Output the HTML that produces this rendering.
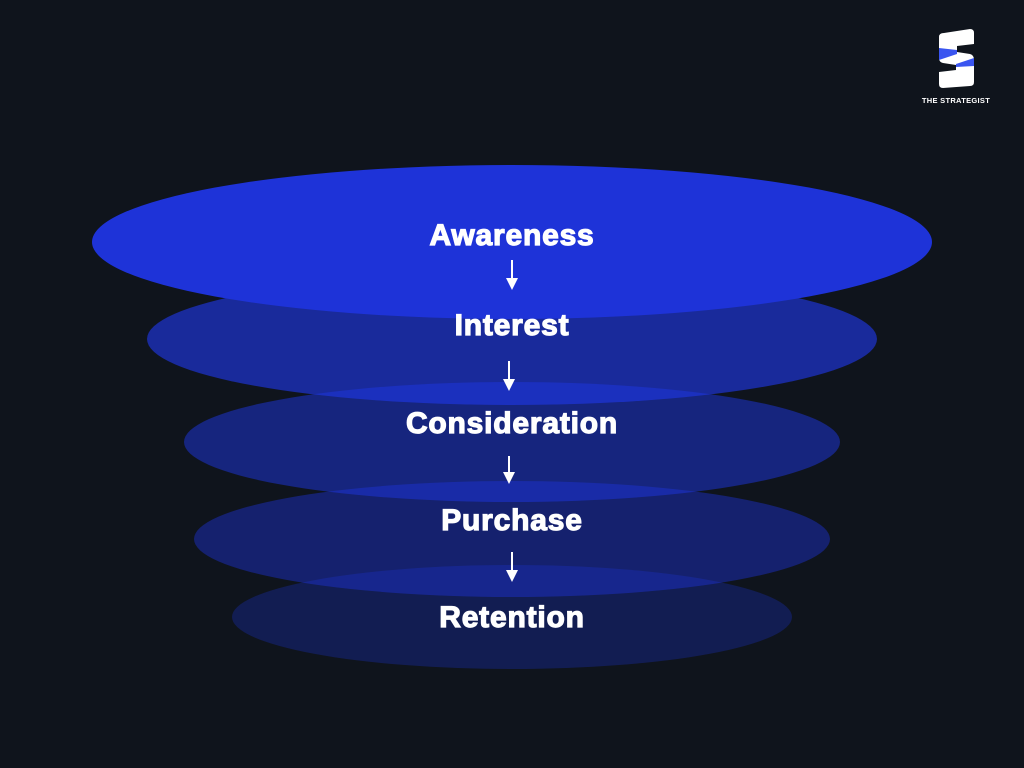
<!DOCTYPE html>
<html><head><meta charset="utf-8"><style>
html,body{margin:0;padding:0;background:#0f141c;}
svg{display:block}
text{font-family:"Liberation Sans","DejaVu Sans",sans-serif;font-weight:bold;fill:#fff;}
</style></head><body>
<svg width="1024" height="768" viewBox="0 0 1024 768" xmlns="http://www.w3.org/2000/svg">
<rect width="1024" height="768" fill="#0f141c"/>
<ellipse cx="512" cy="617" rx="280" ry="52" fill="#1e35e0" fill-opacity="0.28"/>
<ellipse cx="512" cy="539" rx="318" ry="58" fill="#1e35e0" fill-opacity="0.42"/>
<ellipse cx="512" cy="442" rx="328" ry="60" fill="#1e35e0" fill-opacity="0.5"/>
<ellipse cx="512" cy="339" rx="365" ry="66" fill="#1e35e0" fill-opacity="0.65"/>
<ellipse cx="512" cy="242" rx="420" ry="77" fill="#1e33d8"/>
<g text-anchor="middle" font-size="30" letter-spacing="0.8" stroke="#fff" stroke-width="1.2">
<text x="512" y="245">Awareness</text>
<text x="512" y="335">Interest</text>
<text x="512" y="433">Consideration</text>
<text x="512" y="530">Purchase</text>
<text x="512" y="627">Retention</text>
</g>
<g stroke="#fff" stroke-width="2" fill="#fff">
<line x1="512" y1="260" x2="512" y2="280"/><polygon points="506,278 518,278 512,290" stroke="none"/>
<line x1="509" y1="361" x2="509" y2="381"/><polygon points="503,379 515,379 509,391" stroke="none"/>
<line x1="509" y1="456" x2="509" y2="474"/><polygon points="503,472 515,472 509,484" stroke="none"/>
<line x1="512" y1="552" x2="512" y2="572"/><polygon points="506,570 518,570 512,582" stroke="none"/>
</g>
<g>
<path d="M944 33 L970 29 Q974 29 974 33 L974 44 L957 46 L957 52 L970 54 Q974 55 974 60 L974 82 Q974 86 970 86 L943 88 Q939 88 939 84 L939 72 L956 70 L956 65 L943 63 Q939 62 939 58 L939 37 Q939 33 944 33 Z" fill="#fff"/>
<path d="M939 48 L957 50 L957 54 L939 60 Z M956 64 L974 58 L974 66 L956 67 Z" fill="#3a55f0"/>
<text x="956" y="103" font-size="7.5" text-anchor="middle" letter-spacing="0.3">THE STRATEGIST</text>
</g>
</svg>
</body></html>
